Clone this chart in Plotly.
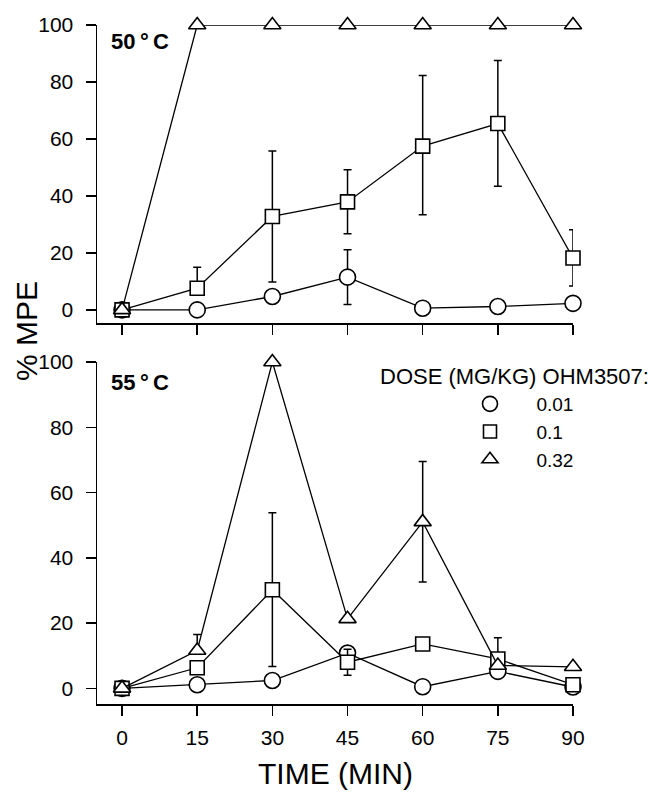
import plotly.graph_objects as go

# ---------------- data ----------------
time_min = [0, 15, 30, 45, 60, 75, 90]
x_tick_labels = ["0", "15", "30", "45", "60", "75", "90"]
y_tick_vals = [0, 20, 40, 60, 80, 100]
dose_labels = ["0.01", "0.1", "0.32"]

# 50 °C panel
t50_d001 = [0, 0, 4.7, 11.5, 0.6, 1.2, 2.3]
t50_d001_errp = [0, 0, 0, 9.6, 0, 0, 0]
t50_d001_errm = [0, 0, 0, 9.6, 0, 0, 0]
t50_d01 = [0, 7.6, 32.8, 37.9, 57.5, 65.4, 18.2]
t50_d01_errp = [0, 7.4, 23.0, 11.3, 24.8, 22.1, 9.9]
t50_d01_errm = [0, 0, 23.0, 11.2, 24.1, 22.0, 9.8]
t50_d032 = [0, 100, 100, 100, 100, 100, 100]

# 55 °C panel
t55_d001 = [0, 1.1, 2.4, 10.8, 0.5, 5.2, 0.4]
t55_d01 = [0, 6.3, 30.2, 8.0, 13.6, 9.0, 1.1]
t55_d01_errp = [0, 0, 23.6, 4.0, 0, 6.5, 0]
t55_d01_errm = [0, 0, 23.5, 4.0, 0, 0, 0]
t55_d032 = [0, 11.6, 100, 21.3, 51.0, 7.0, 6.6]
t55_d032_errp = [0, 4.9, 0, 0, 18.5, 0, 0]
t55_d032_errm = [0, 0, 0, 0, 18.4, 0, 0]

# ---------------- styling ----------------
FONT = "Liberation Sans, Arial, Helvetica, sans-serif"
symbols = ["circle", "square", "triangle-up"]
sizes = [16, 14, 15]
LINE_W = 1.3
MK_LINE = 1.6

W, H = 652, 792
ML, MR, MT, MB = 97, 79, 25, 88
PW, PH = W - ML - MR, H - MT - MB


def px_x(px):
    return (px - ML) / PW


def px_y(py):
    return (H - MB - py) / PH


fig = go.Figure()


def add_series(y, sym, size, xa, ya, errp=None, errm=None):
    kw = {}
    if errp is not None:
        kw["error_y"] = dict(type="data", symmetric=False, array=errp,
                             arrayminus=errm, color="black", thickness=1.5,
                             width=4)
    fig.add_trace(go.Scatter(
        x=time_min, y=y, mode="lines+markers", xaxis=xa, yaxis=ya,
        line=dict(color="black", width=LINE_W),
        marker=dict(symbol=sym, size=size, color="white",
                    line=dict(color="black", width=MK_LINE)),
        showlegend=False, cliponaxis=False, hoverinfo="skip", **kw))


# top panel (x, y)
add_series(t50_d001, symbols[0], sizes[0], "x", "y", t50_d001_errp, t50_d001_errm)
add_series(t50_d01, symbols[1], sizes[1], "x", "y", t50_d01_errp, t50_d01_errm)
add_series(t50_d032, symbols[2], sizes[2], "x", "y")
# bottom panel (x2, y2)
add_series(t55_d001, symbols[0], sizes[0], "x2", "y2")
add_series(t55_d01, symbols[1], sizes[1], "x2", "y2", t55_d01_errp, t55_d01_errm)
add_series(t55_d032, symbols[2], sizes[2], "x2", "y2", t55_d032_errp, t55_d032_errm)

# legend entries
PAD = "\u00a0" * 5
for lab, sym, sz in zip(dose_labels, symbols, sizes):
    fig.add_trace(go.Scatter(
        x=[None], y=[None], mode="markers", xaxis="x2", yaxis="y2",
        name=PAD + lab,
        marker=dict(symbol=sym, size=sz - 1, color="white",
                    line=dict(color="black", width=MK_LINE)),
        showlegend=True))

top_dom = [px_y(323), 1.0]
bot_dom = [0.0, px_y(362)]

axis_common = dict(showline=True, linecolor="black", linewidth=1.5,
                   ticks="outside", ticklen=10, tickwidth=1.5,
                   tickcolor="black", showgrid=False, zeroline=False,
                   mirror=False,
                   tickfont=dict(family=FONT, size=21, color="black"))

fig.update_layout(
    width=W, height=H,
    margin=dict(l=ML, r=MR, t=MT, b=MB, pad=0),
    paper_bgcolor="white", plot_bgcolor="white",
    font=dict(family=FONT, color="black"),
    hovermode=False,
    xaxis=dict(domain=[0, 1], anchor="y", range=[-5, 90],
               tickvals=time_min, showticklabels=False, **axis_common),
    yaxis=dict(domain=top_dom, anchor="x", range=[-4.6, 100],
               tickvals=y_tick_vals, ticklabelstandoff=8, **axis_common),
    xaxis2=dict(domain=[0, 1], anchor="y2", range=[-5, 90],
                tickvals=time_min, ticktext=x_tick_labels,
                ticklabelstandoff=4, **axis_common),
    yaxis2=dict(domain=bot_dom, anchor="x2", range=[-4.8, 100],
                tickvals=y_tick_vals, ticklabelstandoff=8, **axis_common),
    legend=dict(x=px_x(470), y=px_y(385), xanchor="left", yanchor="top",
                bgcolor="rgba(0,0,0,0)", borderwidth=0,
                font=dict(family=FONT, size=19, color="black"),
                itemclick=False, itemdoubleclick=False),
    annotations=[
        dict(text="<b>50\u2009°\u2009C</b>", xref="paper", yref="paper",
             x=px_x(109), y=px_y(41), xanchor="left", yanchor="middle",
             showarrow=False, font=dict(family=FONT, size=22, color="black")),
        dict(text="<b>55\u2009°\u2009C</b>", xref="paper", yref="paper",
             x=px_x(109), y=px_y(382), xanchor="left", yanchor="middle",
             showarrow=False, font=dict(family=FONT, size=22, color="black")),
        dict(text="DOSE (MG/KG) OHM3507:", xref="paper", yref="paper",
             x=px_x(651), y=px_y(377), xanchor="right", yanchor="middle",
             showarrow=False, font=dict(family=FONT, size=22, color="black")),
        dict(text="% MPE", xref="paper", yref="paper", textangle=-90,
             x=px_x(27), y=px_y(331), xanchor="center", yanchor="middle",
             showarrow=False, font=dict(family=FONT, size=30, color="black")),
        dict(text="TIME (MIN)", xref="paper", yref="paper",
             x=px_x(335), y=px_y(773), xanchor="center", yanchor="middle",
             showarrow=False, font=dict(family=FONT, size=30, color="black")),
    ],
)

fig.write_html("out.html",
               config={"displayModeBar": False, "staticPlot": True},
               post_script="document.body.style.margin='0';"
                           "document.body.style.overflow='hidden';")
